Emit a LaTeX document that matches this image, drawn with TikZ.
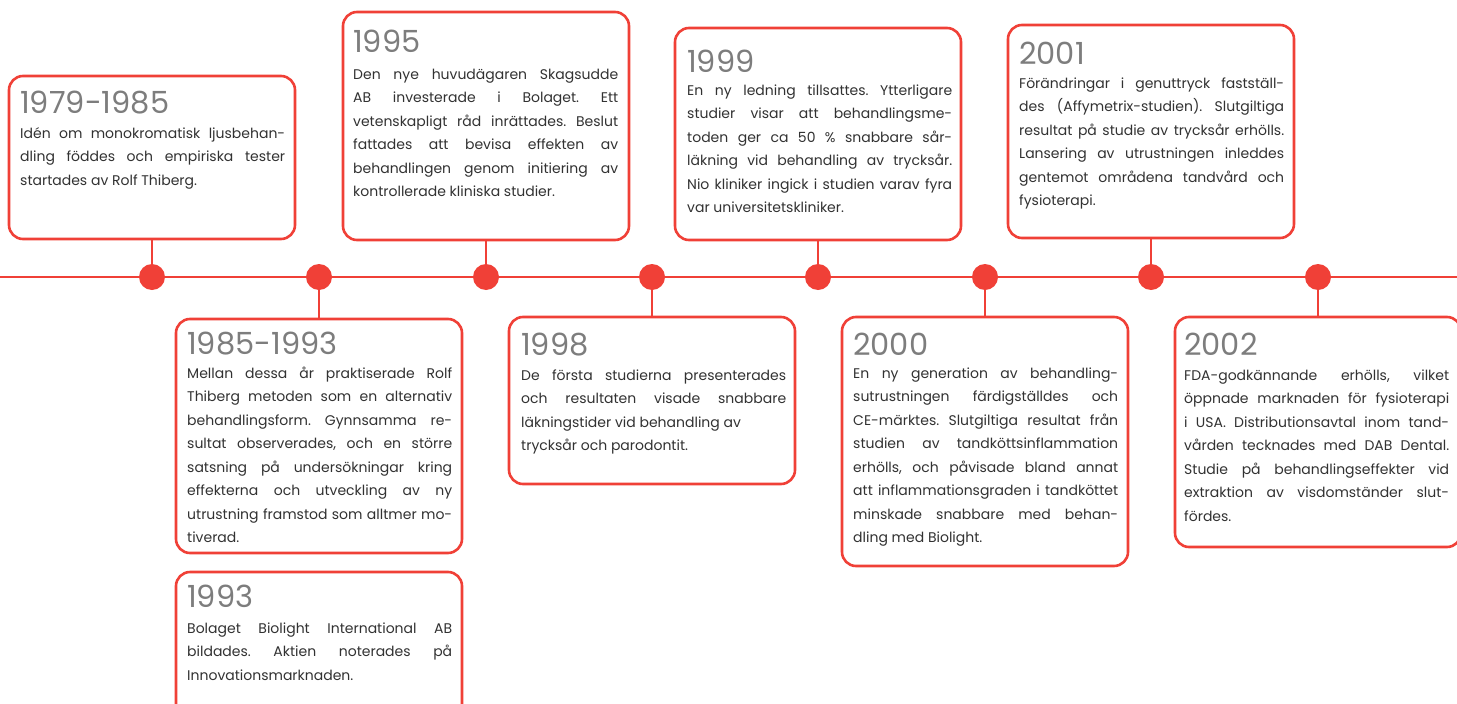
\documentclass[tikz,border=0pt]{standalone}
\usepackage{fontspec}
\setmainfont{Poppins}
\usetikzlibrary{calc}
\definecolor{tlred}{RGB}{240,64,55}
\definecolor{yeargray}{RGB}{125,125,125}
\definecolor{bodytext}{RGB}{50,50,50}
\newcommand{\tlbodyfont}{\fontsize{14}{23.5}\selectfont\frenchspacing\hyphenpenalty=10000\relax\exhyphenpenalty=10000\relax\tolerance=10000\relax}
\tikzset{
 card/.style={draw=tlred, line width=2.6pt, rounded corners=14pt, fill=white, anchor=north west, inner sep=0pt, outer sep=0pt, minimum width=286pt},
 tdot/.style={circle, fill=tlred, minimum size=26pt, inner sep=0pt},
 conn/.style={draw=tlred, line width=2.6pt},
 axisline/.style={draw=tlred, line width=2.6pt},
 yearlbl/.style={anchor=base west, inner sep=0pt, text=yeargray, font=\fontsize{30.5}{30.5}\selectfont},
 bodylbl/.style={anchor=base west, inner sep=0pt, text=bodytext, text width=265pt, align=justify, font=\tlbodyfont},
}
\begin{document}
\begin{tikzpicture}[x=1pt,y=-1pt]
\useasboundingbox (0,0) rectangle (1457,704);
% axis
\coordinate (axL) at (0,277);
\coordinate (axR) at (1457,277);
\draw[axisline] (axL) -- (axR);
% dots
\node[tdot] (d1) at (152,277) {};
\node[tdot] (d2) at (319,277) {};
\node[tdot] (d3) at (486,277) {};
\node[tdot] (d4) at (652,277) {};
\node[tdot] (d5) at (818,277) {};
\node[tdot] (d6) at (985,277) {};
\node[tdot] (d7) at (1151,277) {};
\node[tdot] (d8) at (1318,277) {};
% boxes
\node[card, minimum height=163pt] (b1) at (9,76) {};
\node[card, minimum height=234pt] (b2) at (176,319) {};
\node[card, minimum height=150pt] (b2b) at (176,572) {};
\node[card, minimum height=228pt] (b3) at (343,12) {};
\node[card, minimum height=167pt] (b4) at (509,317) {};
\node[card, minimum height=212pt] (b5) at (675,28) {};
\node[card, minimum height=249pt] (b6) at (842,317) {};
\node[card, minimum height=213pt] (b7) at (1008,25) {};
\node[card, minimum height=230pt] (b8) at (1175,317) {};
% connectors
\draw[conn] (d1 |- b1.south) -- (d1);
\draw[conn] (d2 |- b2.north) -- (d2);
\draw[conn] (d3 |- b3.south) -- (d3);
\draw[conn] (d4 |- b4.north) -- (d4);
\draw[conn] (d5 |- b5.south) -- (d5);
\draw[conn] (d6 |- b6.north) -- (d6);
\draw[conn] (d7 |- b7.south) -- (d7);
\draw[conn] (d8 |- b8.north) -- (d8);
% texts
\node[yearlbl] (y1) at (20,113) {1979-1985};
\node[bodylbl] (t1) at (20,138) {Idén om monokromatisk ljusbehan-\linebreak dling föddes och empiriska tester\linebreak startades av Rolf Thiberg.};

\node[yearlbl] (y2) at (187,354) {1985-1993};
\node[bodylbl] (t2) at (187,378) {Mellan dessa år praktiserade Rolf\linebreak Thiberg metoden som en alternativ\linebreak behandlingsform. Gynnsamma re-\linebreak sultat observerades, och en större\linebreak satsning på undersökningar kring\linebreak effekterna och utveckling av ny\linebreak utrustning framstod som alltmer mo-\linebreak tiverad.};

\node[yearlbl] (y2b) at (187,607) {1993};
\node[bodylbl] (t2b) at (187,633) {Bolaget Biolight International AB\linebreak bildades. Aktien noterades på\linebreak Innovationsmarknaden.};

\node[yearlbl] (y3) at (353,52) {1995};
\node[bodylbl] (t3) at (353,79) {Den nye huvudägaren Skagsudde\linebreak AB investerade i Bolaget. Ett\linebreak vetenskapligt råd inrättades. Beslut\linebreak fattades att bevisa effekten av\linebreak behandlingen genom initiering av\linebreak kontrollerade kliniska studier.};

\node[yearlbl] (y4) at (521,355) {1998};
\node[bodylbl] (t4) at (521,380) {De första studierna presenterades\linebreak och resultaten visade snabbare\linebreak läkningstider vid behandling av\hfil\break trycksår och parodontit.};

\node[yearlbl] (y5) at (687,72) {1999};
\node[bodylbl] (t5) at (687,95) {En ny ledning tillsattes. Ytterligare\linebreak studier visar att behandlingsme-\linebreak toden ger ca 50 \% snabbare sår-\linebreak läkning vid behandling av trycksår.\linebreak Nio kliniker ingick i studien varav fyra\linebreak var universitetskliniker.};

\node[yearlbl] (y6) at (853,355) {2000};
\node[bodylbl] (t6) at (853,378) {En ny generation av behandling-\linebreak sutrustningen färdigställdes och\linebreak CE-märktes. Slutgiltiga resultat från\linebreak studien av tandköttsinflammation\linebreak erhölls, och påvisade bland annat\linebreak att inflammationsgraden i tandköttet\linebreak minskade snabbare med behan-\linebreak dling med Biolight.};

\node[yearlbl] (y7) at (1019,64) {2001};
\node[bodylbl] (t7) at (1019,88) {Förändringar i genuttryck fastställ-\linebreak des (Affymetrix-studien). Slutgiltiga\linebreak resultat på studie av trycksår erhölls.\linebreak Lansering av utrustningen inleddes\linebreak gentemot områdena tandvård och\linebreak fysioterapi.};

\node[yearlbl] (y8) at (1184,355) {2002};
\node[bodylbl] (t8) at (1184,380) {FDA-godkännande erhölls, vilket\linebreak öppnade marknaden för fysioterapi\linebreak i USA. Distributionsavtal inom tand-\linebreak vården tecknades med DAB Dental.\linebreak Studie på behandlingseffekter vid\linebreak extraktion av visdomständer slut-\linebreak fördes.};
\end{tikzpicture}
\end{document}
